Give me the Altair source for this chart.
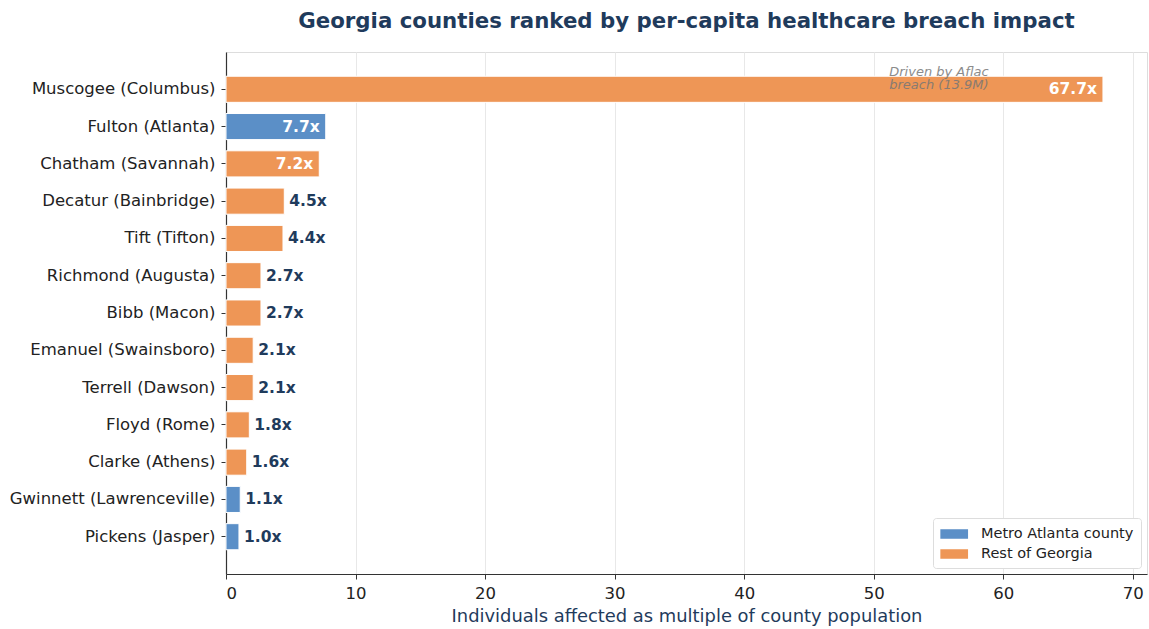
import altair as alt
import pandas as pd

counties = [
    "Muscogee (Columbus)", "Fulton (Atlanta)", "Chatham (Savannah)",
    "Decatur (Bainbridge)", "Tift (Tifton)", "Richmond (Augusta)",
    "Bibb (Macon)", "Emanuel (Swainsboro)", "Terrell (Dawson)",
    "Floyd (Rome)", "Clarke (Athens)", "Gwinnett (Lawrenceville)",
    "Pickens (Jasper)",
]
values = [67.7, 7.7, 7.2, 4.5, 4.4, 2.7, 2.7, 2.1, 2.1, 1.8, 1.6, 1.1, 1.0]
regions = [
    "Rest of Georgia", "Metro Atlanta county", "Rest of Georgia",
    "Rest of Georgia", "Rest of Georgia", "Rest of Georgia",
    "Rest of Georgia", "Rest of Georgia", "Rest of Georgia",
    "Rest of Georgia", "Rest of Georgia", "Metro Atlanta county",
    "Metro Atlanta county",
]
region_names = ["Metro Atlanta county", "Rest of Georgia"]
region_colors = ["#5B8FC7", "#EE9656"]
x_ticks = [0, 10, 20, 30, 40, 50, 60, 70]

annot_county = ["Muscogee (Columbus)"]
annot_x = [51.2]
annot_text = ["Driven by Aflac\nbreach (13.9M)"]

df = pd.DataFrame({"county": counties, "value": values, "region": regions})
df["label"] = [f"{v:.1f}x" for v in values]
ann = pd.DataFrame({"county": annot_county, "x": annot_x, "text": annot_text})

FONT = "DejaVu Sans"
NAVY = "#1F3B5C"

xscale = alt.Scale(domain=[0, 71.1], nice=False, zero=True)
yscale = alt.Scale(paddingInner=0.3, paddingOuter=0.65)

base = alt.Chart(df)

bars = base.mark_bar(stroke="white", strokeWidth=1).encode(
    y=alt.Y("county:N", sort=counties, scale=yscale, title=None,
            axis=alt.Axis(labelFont=FONT, labelFontSize=16.5, labelColor="#222222",
                          labelLimit=0,
                          tickColor="#333333", tickSize=5, domainColor="#333333",
                          domainWidth=1.2, labelPadding=6, grid=False)),
    x=alt.X("value:Q", scale=xscale,
            title="Individuals affected as multiple of county population",
            axis=alt.Axis(values=x_ticks, labelFont=FONT, labelFontSize=16.5,
                          labelColor="#222222", tickColor="#333333", tickSize=5,
                          domainColor="#333333", domainWidth=1.2, labelPadding=6,
                          titleFont=FONT, titleFontSize=17.9, titleColor=NAVY,
                          titleFontWeight="normal", titlePadding=6,
                          grid=True, gridColor="#E8E8E8", gridWidth=1)),
    color=alt.Color("region:N",
                    scale=alt.Scale(domain=region_names, range=region_colors),
                    legend=alt.Legend(title=None, orient="bottom-right",
                                      labelFont=FONT, labelFontSize=14.5,
                                      labelColor="#222222",
                                      symbolType="M-1,-0.55H2.2V0.55H-1Z",
                                      symbolSize=300, symbolStrokeWidth=0,
                                      symbolOpacity=1,
                                      strokeColor="#DDDDDD", fillColor="white",
                                      padding=7, cornerRadius=3, rowPadding=4,
                                      offset=6, labelOffset=23)),
)

outside = base.transform_filter("datum.value < 7").mark_text(
    align="left", baseline="middle", dx=5, font=FONT, fontSize=15.5,
    fontWeight="bold", color=NAVY,
).encode(y=alt.Y("county:N", sort=counties, scale=yscale),
         x=alt.X("value:Q", scale=xscale), text="label:N")

inside = base.transform_filter("datum.value >= 7").mark_text(
    align="right", baseline="middle", dx=-6, font=FONT, fontSize=15.5,
    fontWeight="bold", color="white",
).encode(y=alt.Y("county:N", sort=counties, scale=yscale),
         x=alt.X("value:Q", scale=xscale), text="label:N")

note = alt.Chart(ann).mark_text(
    align="left", baseline="middle", dy=-17, font=FONT, fontSize=13,
    fontStyle="italic", color="#777777", opacity=0.85, lineBreak="\n",
    lineHeight=13,
).encode(y=alt.Y("county:N", sort=counties, scale=yscale),
         x=alt.X("x:Q", scale=xscale), text="text:N")

chart = alt.layer(bars, outside, inside, note).properties(
    width=921, height=522,
    title=alt.TitleParams("Georgia counties ranked by per-capita healthcare breach impact",
                          font=FONT, fontSize=21.3, fontWeight="bold", color=NAVY,
                          anchor="middle", offset=20),
    padding={"left": 226, "top": 52, "right": 2, "bottom": 55},
    autosize=alt.AutoSizeParams(type="none"),
).configure_view(stroke=None).configure(background="white")

chart.save("out.html", embed_options={"renderer": "svg", "actions": False})
